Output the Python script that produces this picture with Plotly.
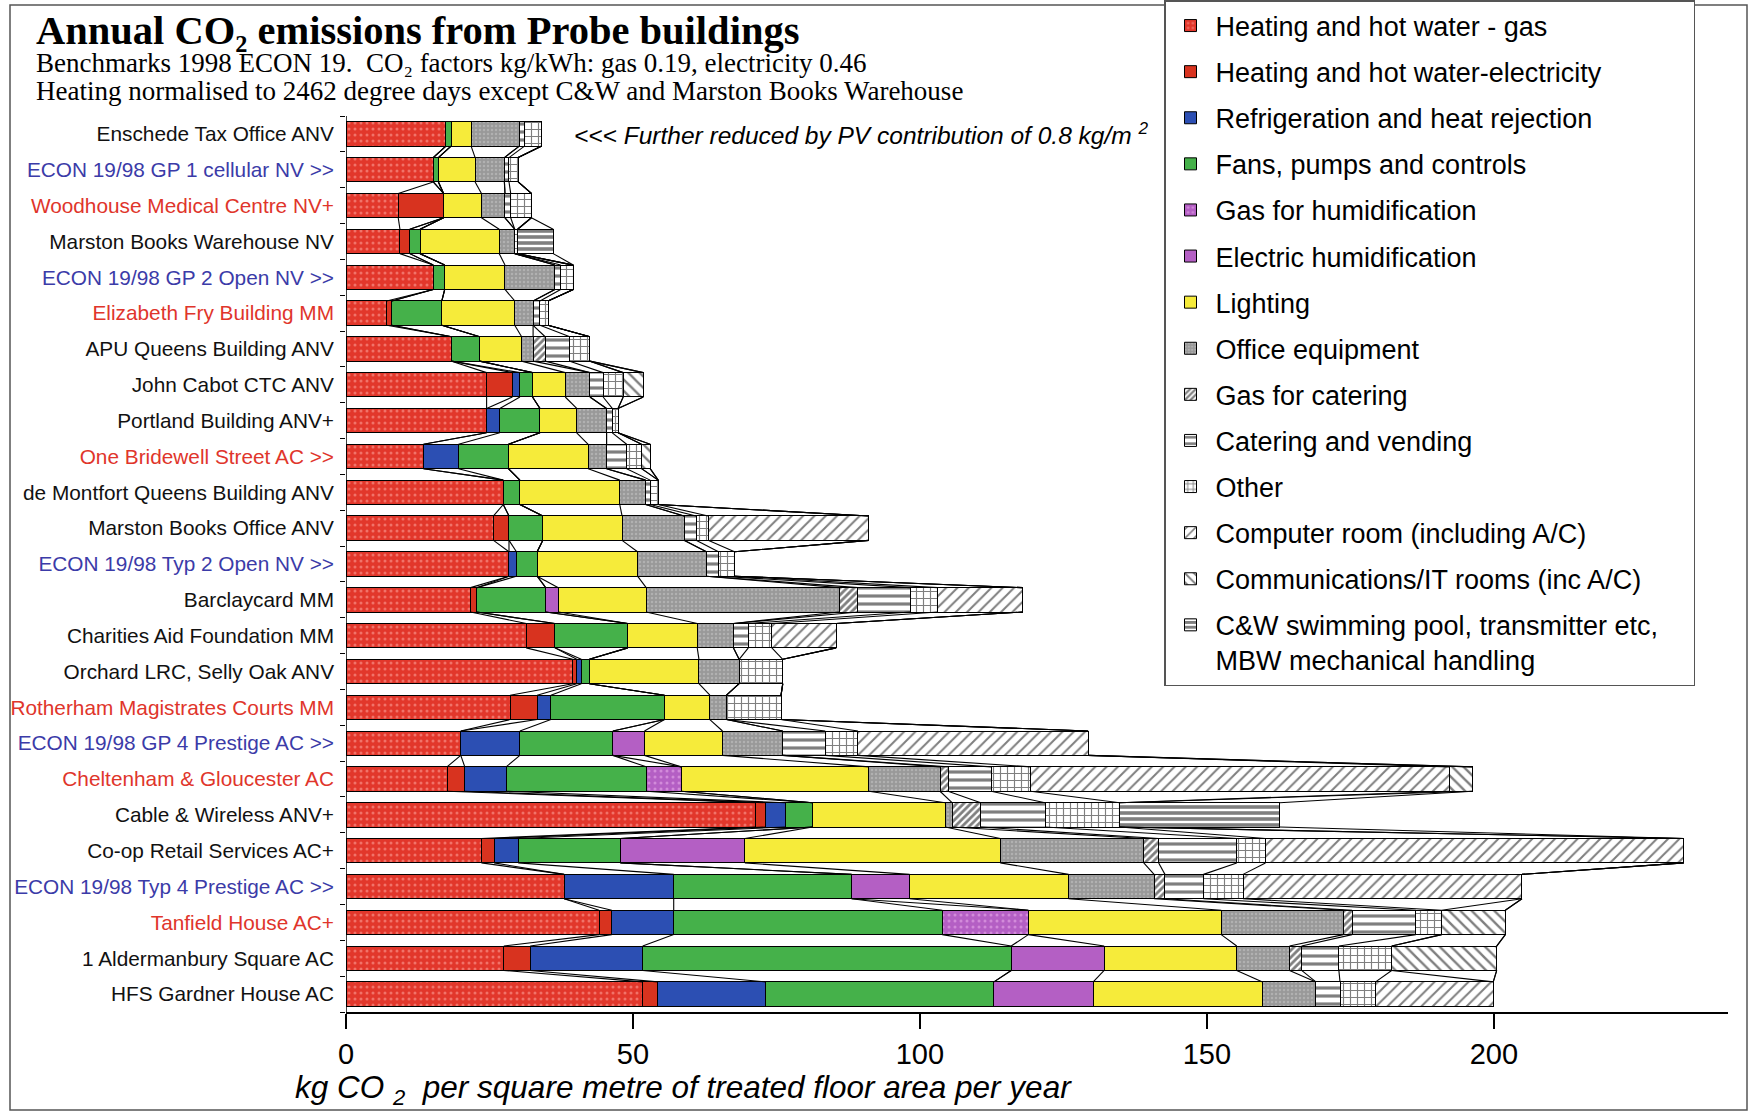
import numpy as np
import plotly.graph_objects as go

buildings = [
    "Enschede Tax Office ANV", "ECON 19/98 GP 1 cellular NV >>", "Woodhouse Medical Centre NV+",
    "Marston Books Warehouse NV", "ECON 19/98 GP 2 Open NV >>", "Elizabeth Fry Building MM",
    "APU Queens Building ANV", "John Cabot CTC ANV", "Portland Building ANV+",
    "One Bridewell Street AC >>", "de Montfort Queens Building ANV", "Marston Books Office ANV",
    "ECON 19/98 Typ 2 Open NV >>", "Barclaycard MM", "Charities Aid Foundation MM",
    "Orchard LRC, Selly Oak ANV", "Rotherham Magistrates Courts MM", "ECON 19/98 GP 4 Prestige AC >>",
    "Cheltenham & Gloucester AC", "Cable & Wireless ANV+", "Co-op Retail Services AC+",
    "ECON 19/98 Typ 4 Prestige AC >>", "Tanfield House AC+", "1 Aldermanbury Square AC",
    "HFS Gardner House AC",
]
label_kind = ["k", "b", "r", "k", "b", "r", "k", "k", "k", "r", "k", "k", "b", "k", "k", "k", "r", "b",
              "r", "k", "k", "b", "r", "k", "k"]

heat_gas = [17.4, 15.2, 9.1, 9.4, 15.2, 7.1, 18.4, 24.5, 24.5, 13.5, 27.4, 25.7, 28.4, 21.7, 31.4, 39.5,
            28.6, 20.0, 17.6, 71.4, 23.6, 38.0, 44.1, 27.5, 51.7]
heat_elec = [0, 0, 7.9, 1.7, 0, 0.9, 0, 4.5, 0, 0, 0, 2.7, 0, 1.1, 5.0, 0.7, 4.7, 0, 3.1, 1.7, 2.2, 0,
             2.2, 4.6, 2.6]
refrig = [0, 0, 0, 0, 0, 0, 0, 1.3, 2.3, 6.1, 0, 0, 1.3, 0, 0, 0.8, 2.4, 10.3, 7.2, 3.4, 4.2, 19.1,
          10.8, 19.6, 18.8]
fans = [0.9, 0.9, 0, 1.8, 2.0, 8.7, 4.9, 2.2, 7.0, 8.7, 2.9, 5.9, 3.6, 12.0, 12.7, 1.4, 19.8, 16.2,
        24.4, 4.8, 17.8, 31.0, 46.8, 64.2, 39.8]
gas_humid = [0, 0, 0, 0, 0, 0, 0, 0, 0, 0, 0, 0, 0, 0, 0, 0, 0, 0, 6.1, 0, 0, 0, 15.0, 0, 0]
elec_humid = [0, 0, 0, 0, 0, 0, 0, 0, 0, 0, 0, 0, 0, 2.2, 0, 0, 0, 5.5, 0, 0, 21.7, 10.1, 0, 16.2, 17.3]
lighting = [3.5, 6.4, 6.6, 13.8, 10.5, 12.7, 7.3, 5.7, 6.4, 13.9, 17.4, 13.8, 17.5, 15.3, 12.1, 19.1,
            7.9, 13.6, 32.7, 23.1, 44.5, 27.7, 33.6, 23.1, 29.5]
office = [8.4, 5.1, 4.1, 2.7, 8.7, 3.2, 2.0, 4.3, 5.2, 3.2, 4.5, 10.8, 12.0, 33.6, 6.3, 7.0, 2.9, 10.5,
          12.4, 1.2, 25.0, 14.9, 21.3, 9.2, 9.3]
gas_catering = [0, 0, 0, 0, 0, 0, 2.1, 0, 0, 0, 0, 0, 0, 3.3, 0, 0, 0, 0, 1.4, 5.0, 2.6, 1.9, 1.5, 2.1, 0]
catering = [0.9, 0.8, 1.0, 0, 1.0, 1.2, 4.3, 2.3, 1.0, 3.5, 0.8, 2.1, 2.1, 9.1, 2.6, 0, 0, 7.4, 7.5,
            11.2, 13.6, 6.7, 11.1, 6.5, 4.2]
other = [3.0, 1.6, 3.6, 0.5, 2.2, 1.4, 3.5, 3.5, 1.0, 2.6, 1.4, 2.1, 2.8, 4.8, 4.1, 7.6, 9.5, 5.7, 6.9,
         13.0, 5.0, 6.9, 4.5, 9.2, 6.2]
computer_room = [0, 0, 0, 0, 0, 0, 0, 0, 0, 0, 0, 28.0, 0, 14.8, 11.2, 0, 0, 40.1, 73.0, 0, 72.9, 48.6,
                 0, 0, 20.5]
comms_rooms = [0, 0, 0, 0, 0, 0, 0, 3.5, 0, 1.5, 0, 0, 0, 0, 0, 0, 0, 0, 4.0, 0, 0, 0, 11.1, 18.3, 0]
cw_special = [0, 0, 0, 6.2, 0, 0, 0, 0, 0, 0, 0, 0, 0, 0, 0, 0, 0, 0, 0, 27.9, 0, 0, 0, 0, 0]

series_names = [
    "Heating and hot water - gas", "Heating and hot water-electricity",
    "Refrigeration and heat rejection", "Fans, pumps and controls", "Gas for humidification",
    "Electric humidification", "Lighting", "Office equipment", "Gas for catering",
    "Catering and vending", "Other", "Computer room (including A/C)",
    "Communications/IT rooms (inc A/C)",
    "C&W swimming pool, transmitter etc,\u00a0\u00a0\u00a0\u00a0<br>MBW mechanical handling",
]
series_values = [heat_gas, heat_elec, refrig, fans, gas_humid, elec_humid, lighting, office,
                 gas_catering, catering, other, computer_room, comms_rooms, cw_special]

title_lines = [
    "Annual CO\u2082 emissions from Probe buildings",
    "Benchmarks 1998 ECON 19.  CO\u2082 factors kg/kWh: gas 0.19, electricity 0.46",
    "Heating normalised to 2462 degree days except C&amp;W and Marston Books Warehouse",
]

RED = "#e2372b"
styles = [
    dict(color=RED, pattern=dict(shape=".", bgcolor=RED, fgcolor="#ffb0a8", size=6, solidity=0.2)),
    dict(color="#d8331f"),
    dict(color="#2c4fb3"),
    dict(color="#45b14a"),
    dict(color="#b45fc4", pattern=dict(shape=".", bgcolor="#b45fc4", fgcolor="#f0b8f0", size=6, solidity=0.2)),
    dict(color="#b45fc4"),
    dict(color="#f6eb3a"),
    dict(color="#999999", pattern=dict(shape=".", bgcolor="#999999", fgcolor="#c8c8c8", size=4, solidity=0.3)),
    dict(color="white", pattern=dict(shape="/", bgcolor="white", fgcolor="black", size=5, solidity=0.55)),
    dict(color="white", pattern=dict(shape="-", bgcolor="white", fgcolor="black", size=8, solidity=0.4)),
    dict(color="white", pattern=dict(shape="+", bgcolor="white", fgcolor="black", size=7, solidity=0.3)),
    dict(color="white", pattern=dict(shape="/", bgcolor="white", fgcolor="black", size=8, solidity=0.25)),
    dict(color="white", pattern=dict(shape="\\", bgcolor="white", fgcolor="black", size=8, solidity=0.3)),
    dict(color="white", pattern=dict(shape="-", bgcolor="white", fgcolor="black", size=6, solidity=0.6)),
]

label_colors = {"k": "#111111", "b": "#3b3ba8", "r": "#e0352b"}
ypos = list(range(len(buildings)))
n = len(buildings)
BAR_W = 0.68

fig = go.Figure()
for name, vals, st in zip(series_names, series_values, styles):
    marker = dict(color=st["color"], line=dict(color="black", width=1))
    if "pattern" in st:
        marker["pattern"] = st["pattern"]
    fig.add_trace(go.Bar(
        x=[v if v > 0 else None for v in vals], y=ypos, orientation="h", name=name,
        width=BAR_W, marker=marker, legendgroup=name,
    ))

# series lines joining the ends of each component between adjacent bars
cum = np.cumsum(np.array(series_values, dtype=float), axis=0)  # (series, rows)
lx, ly = [], []
for i in range(n - 1):
    for k in range(cum.shape[0]):
        a, b = cum[k, i], cum[k, i + 1]
        lx += [a, b, None]
        ly += [i + BAR_W / 2, i + 1 - BAR_W / 2, None]
fig.add_trace(go.Scatter(x=lx, y=ly, mode="lines", line=dict(color="black", width=1.1),
                         showlegend=False, hoverinfo="skip"))

ticktext = [f'<span style="color:{label_colors[c]}">{b}</span>' for b, c in zip(buildings, label_kind)]

W, H = 1751, 1114
L, R, T, B = 346, 23, 0, 102
BAR_TOP_PX = 116                      # top of the category band area
pw, ph = W - L - R, H - T - B
unit = (H - B - BAR_TOP_PX) / n       # px per category
y_top = -0.5 - (BAR_TOP_PX - T) / unit
XMAX = 240.8

def px(x):
    return (x - L) / pw

def py(y):
    return (H - B - y) / ph

fig.update_layout(
    width=W, height=H,
    margin=dict(l=L, r=R, t=T, b=B),
    barmode="stack",
    plot_bgcolor="white", paper_bgcolor="white",
    font=dict(family="Liberation Sans, Arial, sans-serif", color="black"),
    xaxis=dict(range=[0, XMAX], tickvals=[0, 50, 100, 150, 200], showgrid=False, zeroline=False,
               showline=True, linecolor="black", linewidth=2, ticks="outside", ticklen=15,
               tickwidth=1.5, tickcolor="black", tickfont=dict(size=29)),
    yaxis=dict(range=[n - 0.5, y_top], tickvals=ypos, ticktext=ticktext, showgrid=False, zeroline=False,
               showline=False, ticks="", tickfont=dict(size=20.8), ticklabelstandoff=11,
               minor=dict(tickvals=[i - 0.5 for i in range(n + 1)], ticks="outside", ticklen=5,
                          tickcolor="black", showgrid=False)),
    legend=dict(x=px(1164), y=1.0, xanchor="left", yanchor="top", bgcolor="white",
                bordercolor="#555555", borderwidth=1.5, font=dict(size=27),
                traceorder="grouped", tracegroupgap=8, valign="top", itemwidth=40),
    showlegend=True,
)

# y-axis line spanning the category bands only
fig.add_shape(type="line", xref="x", yref="y", x0=0, x1=0, y0=-0.5, y1=n - 0.5,
              line=dict(color="black", width=1.5))

header = (f'<span style="font-size:40.5px"><b>{title_lines[0]}</b></span><br>'
          f'<span style="font-size:27px">{title_lines[1]}</span><br>'
          f'<span style="font-size:27px">{title_lines[2]}</span>')
fig.add_annotation(xref="paper", yref="paper", x=px(34), y=py(6), xanchor="left", yanchor="top",
                   align="left", text=header, showarrow=False,
                   font=dict(family="Liberation Serif, Times New Roman, serif", size=21.5))
fig.add_annotation(xref="x", yref="y", x=(572 - L) / pw * XMAX, y=0, xanchor="left", yanchor="middle",
                   text="<i>&lt;&lt;&lt; Further reduced by PV contribution of 0.8 kg/m <sup>2</sup></i>",
                   showarrow=False, font=dict(size=24.5))
fig.add_annotation(xref="paper", yref="paper", x=px(293), y=py(1089), xanchor="left", yanchor="middle",
                   text="<i>kg CO <sub>2</sub>  per square metre of treated floor area per year</i>",
                   showarrow=False, font=dict(size=31.5))

fig.add_shape(type="rect", xref="paper", yref="paper", x0=px(10), x1=px(1747), y0=py(1110), y1=py(5),
              line=dict(color="#555555", width=1.5), fillcolor="rgba(0,0,0,0)", layer="below")

fig.write_html("out.html", config={"displayModeBar": False},
               post_script="document.body.style.margin='0';document.body.style.overflow='hidden';")
